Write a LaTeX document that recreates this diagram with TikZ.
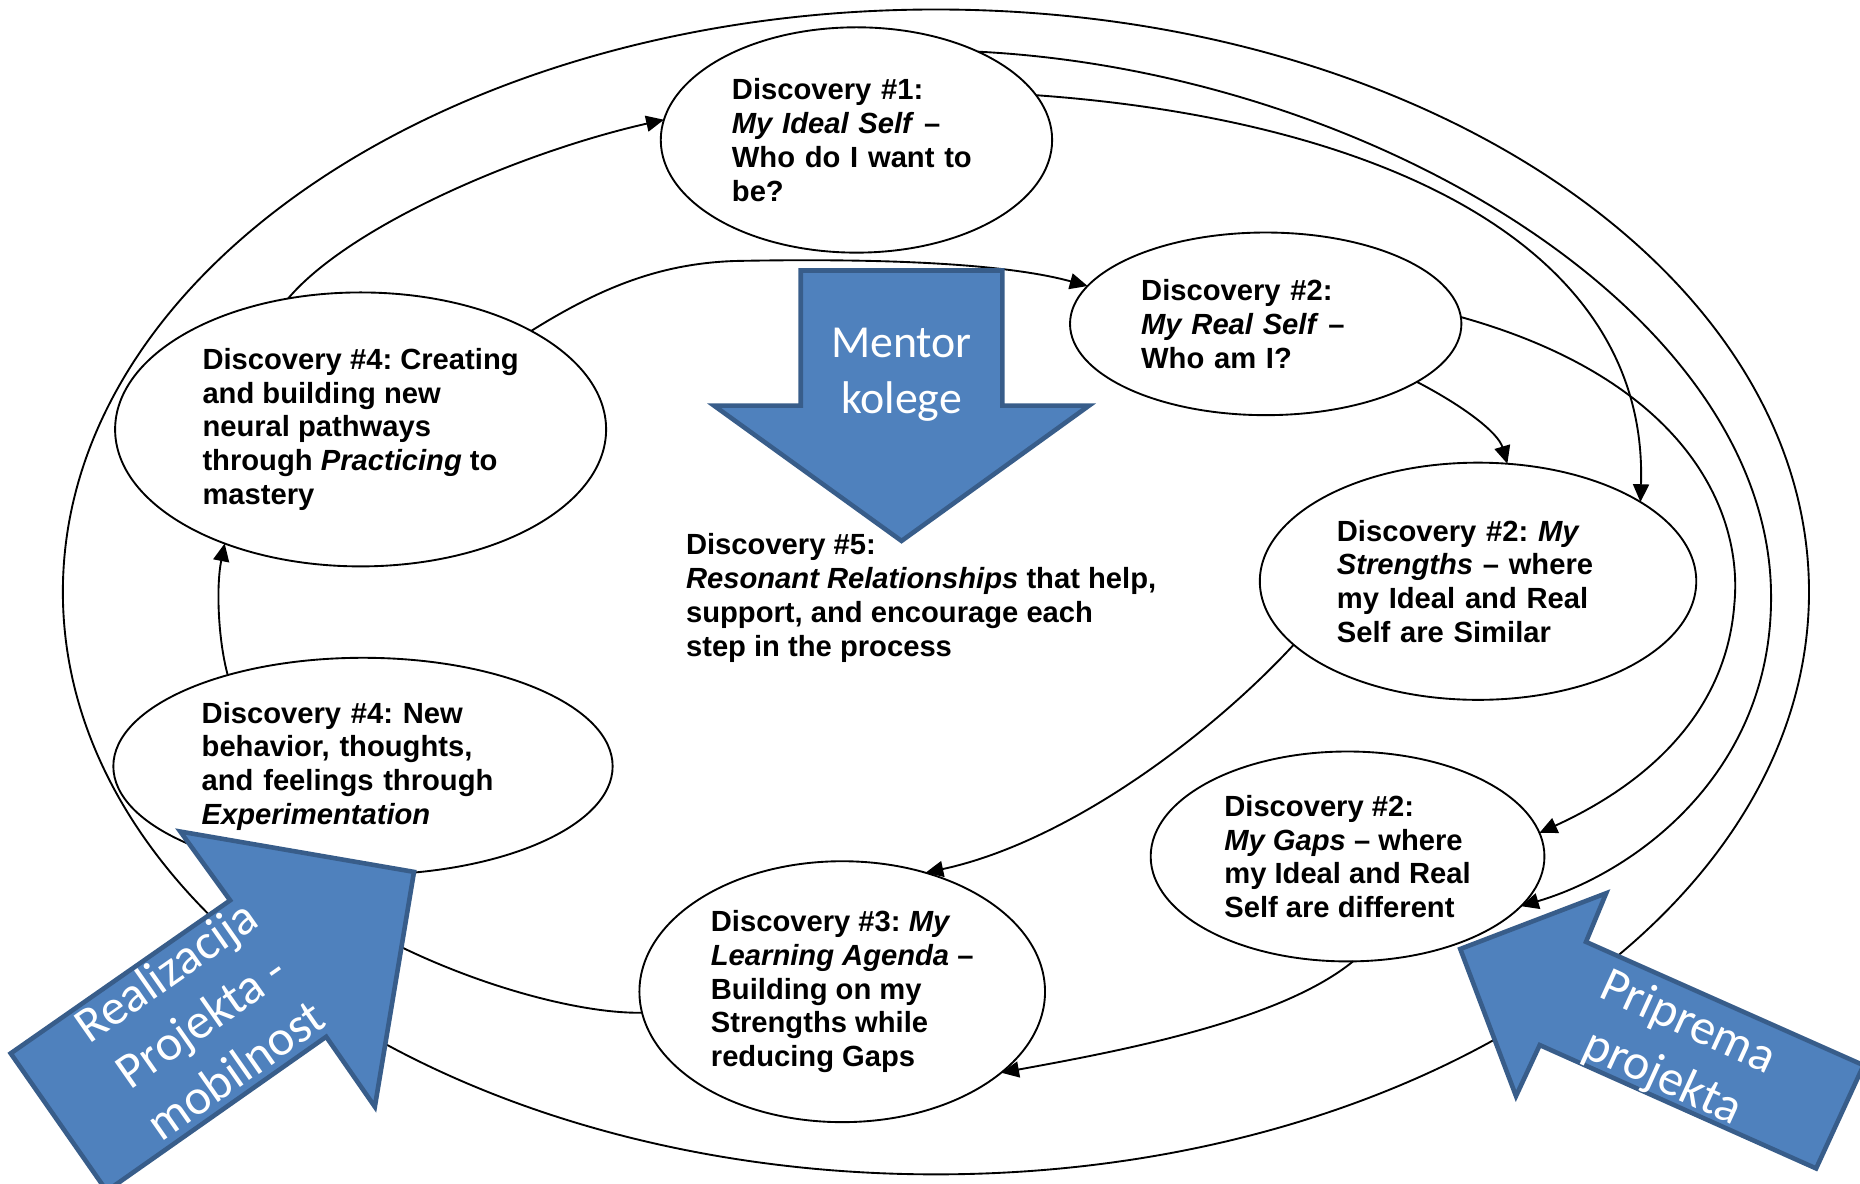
\documentclass[tikz,border=0pt]{standalone}
\usepackage{fontspec}
\setmainfont{Liberation Sans}
\newfontfamily\calibri{Carlito}
\usetikzlibrary{arrows.meta,shapes.geometric}
\definecolor{shapeblue}{HTML}{4F81BD}
\definecolor{shapeedge}{HTML}{385D8A}
\frenchspacing

\begin{document}
\begin{tikzpicture}[x=0.02cm, y=-0.02cm,
	disc/.style={draw, ellipse, line width=0.9pt, inner sep=0pt, outer sep=0pt, align=left, font=\fontsize{14}{16.2}\selectfont\bfseries},
	link/.style={line width=0.9pt, -{Triangle[length=3mm, width=2.7mm]}},
	bigarrow/.style={fill=shapeblue, draw=shapeedge, line width=2.2pt, line join=miter},
	arrowtext/.style={text=white, align=center, font=\calibri\fontsize{24}{29}\selectfont}]
			%%%%% START %%%%%
			
			\useasboundingbox (0, 0) rectangle (1568, 997.3);
			
			\draw[line width=0.9pt] (789, 499) ellipse (736 and 491);
			
			\node[disc, minimum width=6.6cm, minimum height=3.8cm, text width=4.2cm] (ideal) at (722, 118) {Discovery \#1:\\ \textit{My Ideal Self} \textendash\\ Who do I want to\\ be?};
			\node[disc, minimum width=6.6cm, minimum height=3.08cm, text width=4.2cm] (real) at (1067, 273) {Discovery \#2:\\ \textit{My Real Self} \textendash\\ Who am I?};
			\node[disc, minimum width=7.36cm, minimum height=4cm, text width=4.76cm] (strengths) at (1246, 490) {Discovery \#2: \textit{My}\\ \textit{Strengths} \textendash{} where\\ my Ideal and Real\\ Self are Similar};
			\node[disc, minimum width=6.64cm, minimum height=3.54cm] (gaps) at (1136, 722) {Discovery \#2:\\ \textit{My Gaps} \textendash{} where\\ my Ideal and Real\\ Self are different};
			\node[disc, minimum width=6.84cm, minimum height=4.4cm] (agenda) at (710, 836) {Discovery \#3: \textit{My}\\ \textit{Learning Agenda} \textendash\\ Building on my\\ Strengths while\\ reducing Gaps};
			\node[disc, minimum width=8.42cm, minimum height=3.66cm, text width=5.44cm] (experiment) at (306, 646) {Discovery \#4: New\\ behavior, thoughts,\\ and feelings through\\ \textit{Experimentation}};
			\node[disc, minimum width=8.28cm, minimum height=4.62cm] (creating) at (304, 362) {Discovery \#4: Creating\\ and building new\\ neural pathways\\ through \textit{Practicing} to\\ mastery};
			
			\node[anchor=west, inner sep=0pt, align=left, font=\fontsize{14}{16.2}\selectfont\bfseries] (resonant) at (578, 504) {Discovery \#5:\\ \textit{Resonant Relationships} that help,\\ support, and encourage each\\ step in the process};
			
			\draw[link] (creating.119) .. controls (295, 190) and (440, 128) .. (ideal.174);
			\draw[link] (creating.30) .. controls (510, 240) and (560, 222) .. (620, 220) .. controls (720, 218) and (840, 220) .. (real.168);
			\draw[link] (real.-21) .. controls (1235, 343) and (1263, 365) .. (strengths.76);
			\draw[link] (ideal.14) .. controls (1150, 100) and (1390, 200) .. (strengths.26);
			\draw[link] (real.2) .. controls (1420, 320) and (1470, 430) .. (1462, 510) .. controls (1455, 600) and (1390, 660) .. (gaps.7);
			\draw[link] (ideal.36) .. controls (1150, 60) and (1490, 260) .. (1493, 500) .. controls (1495, 650) and (1380, 735) .. (gaps.-16);
			\draw[link] (strengths.199) .. controls (1020, 620) and (900, 710) .. (agenda.55);
			\draw[link] (gaps.-87) .. controls (1080, 860) and (950, 885) .. (agenda.-27);
			\draw[link] (agenda.186) .. controls (470, 855) and (330, 810) .. (experiment.-129);
			\draw[link] (experiment.146) .. controls (184, 540) and (182, 495) .. (creating.220);
			
			\draw[bigarrow] (675, 228) -- (845, 228) -- (845, 342) -- (918, 342) -- (760, 456) -- (602, 342) -- (675, 342) -- cycle;
			\draw[bigarrow] (9, 888) -- (194, 759) -- (152, 701) -- (349, 735) -- (316, 933) -- (275, 874) -- (90, 1004) -- cycle;
			\draw[bigarrow] (1571, 898) -- (1337, 794) -- (1354, 753) -- (1231, 800) -- (1278, 924) -- (1298, 881) -- (1531, 985) -- cycle;
			
			\node[arrowtext, font=\calibri\fontsize{22}{27}\selectfont] (mentor) at (760, 316) {Mentor\\ kolege};
			\node[arrowtext, rotate=35] (realizacija) at (169, 860) {Realizacija\\ Projekta -\\ mobilnost};
			\node[arrowtext, rotate=-24.6] (priprema) at (1412, 886) {Priprema\\ projekta};
			
			%%%%% END %%%%%
\end{tikzpicture}
\end{document}
